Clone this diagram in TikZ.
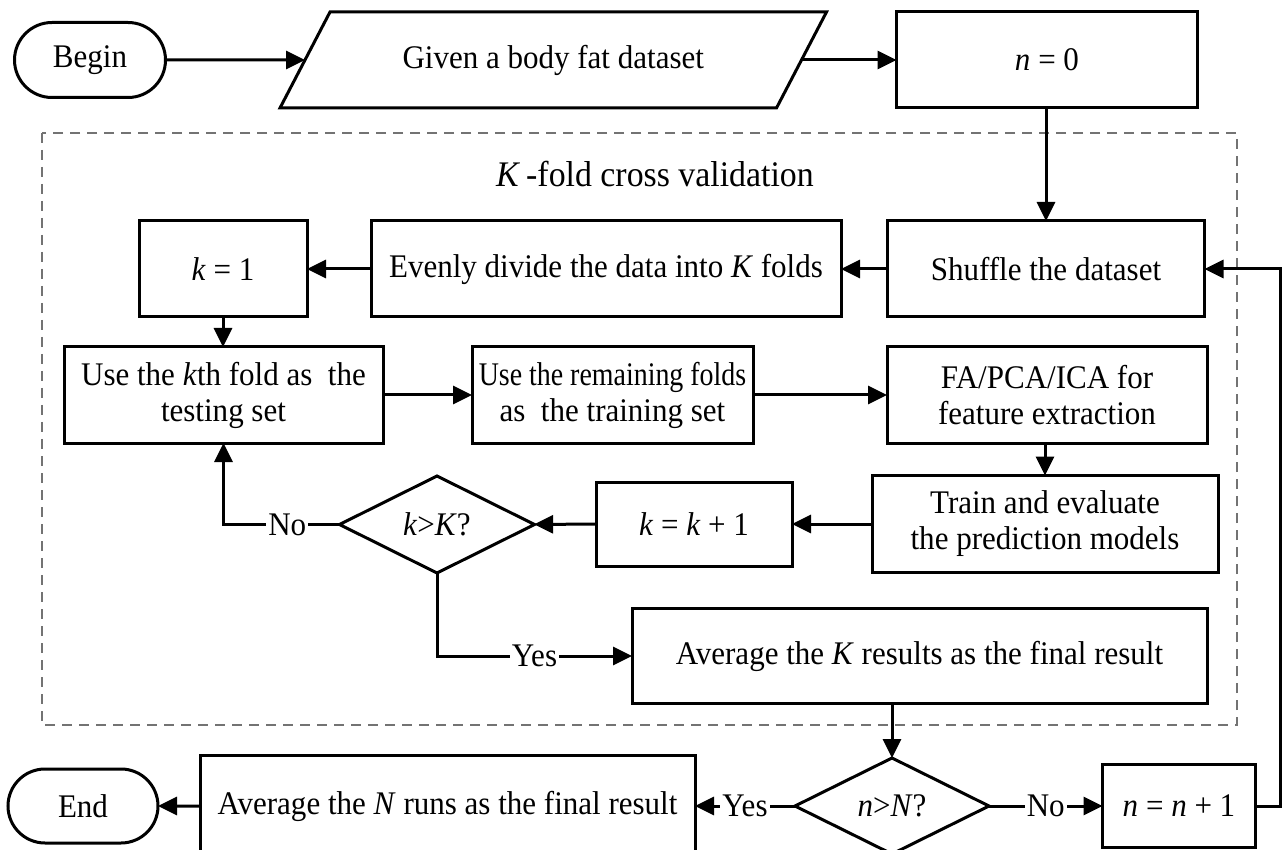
\documentclass[tikz,border=0pt]{standalone}
\usepackage{fontspec}
\setmainfont{Liberation Serif}[FakeStretch=0.94]
\usetikzlibrary{shapes.geometric,shapes.misc,arrows.meta,calc}
\newcommand\mainsz{\fontsize{16.5}{18}\selectfont}
\newcommand\titlesz{\fontsize{18}{21}\selectfont}
\begin{document}
\begin{tikzpicture}[x=0.5pt,y=-0.5pt,
  sz/.style 2 args={minimum width=#1*0.5pt,minimum height=#2*0.5pt},
  base/.style={line width=1.5pt,inner sep=0pt,outer sep=0pt,align=center,font=\mainsz},
  box/.style={base,draw,rectangle},
  term/.style={base,draw,rounded rectangle},
  decision/.style={base,draw,diamond},
  iobody/.style={base,rectangle},
  conn/.style={line width=1.5pt,-{Triangle[length=9.5pt,width=9pt]}},
  lbl/.style={fill=white,inner sep=1pt,font=\mainsz},
  frame/.style={draw=black!55,line width=0.8pt,dash pattern=on 5pt off 3.5pt}]
\useasboundingbox (0,0) rectangle (1286,850);
\clip (0,0) rectangle (1286,850);
\fill[white] (0,0) rectangle (1286,850);

% cross-validation frame and its title
\draw[frame] (42,133) rectangle (1237,725);
\node[font=\titlesz] (cvtitle) at (655,174) {\textit{K}\,-fold cross validation};

% top row
\node[term,sz={151}{75}] (begin) at (90,60) {Begin};
\node[iobody,sz={496.5}{96}] (data) at (553.25,60) {Given a body fat dataset};
\draw[line width=1.5pt,line join=miter]
  ($(data.north west)+(25,0)$) -- ($(data.north east)+(25,0)$) --
  ($(data.south east)+(-25,0)$) -- ($(data.south west)+(-25,0)$) -- cycle;
\node[box,sz={301}{96}] (n0) at (1047,60) {\textit{n} = 0};

% inner loop
\node[box,sz={317}{96}] (shuffle) at (1046,269) {Shuffle the dataset};
\node[box,sz={470}{96}] (divide) at (606,269) {Evenly divide the data into \textit{K} folds};
\node[box,sz={168}{96}] (k1) at (223,269) {\textit{k} = 1};
\node[box,sz={319}{96}] (kth) at (223.5,395) {Use the \textit{k}th fold as \ the\\testing set};
\node[box,sz={281}{96}] (rem) at (612.5,395) {\scalebox{0.9}[1]{Use the remaining folds}\\as \ the training set};
\node[box,sz={320}{96}] (fa) at (1047,395) {FA/PCA/ICA for\\feature extraction};
\node[box,sz={346}{97}] (train) at (1045,524) {Train and evaluate\\the prediction models};
\node[box,sz={196}{84}] (kk1) at (694,524) {\textit{k} = \textit{k} + 1};
\node[decision,sz={195}{97}] (kK) at (437,524.5) {\textit{k}>\textit{K}?};
\node[box,sz={575}{95}] (avgK) at (919.5,656) {Average the \textit{K} results as the final result};

% outer loop
\node[decision,sz={194}{96}] (nN) at (892,806) {\textit{n}>\textit{N}?};
\node[box,sz={153}{83}] (nn1) at (1179,806) {\textit{n} = \textit{n} + 1};
\node[box,sz={495}{102}] (avgN) at (447.5,806) {Average the \textit{N} runs as the final result};
\node[term,sz={150}{74}] (end) at (83,806) {End};
\coordinate (loopx) at (1280,0);

% connectors
\draw[conn] (begin) -- (data);
\draw[conn] (data) -- (n0);
\draw[conn] (n0.south -| shuffle.north) -- (shuffle.north);
\draw[conn] (shuffle) -- (divide);
\draw[conn] (divide) -- (k1);
\draw[conn] (k1) -- (k1 |- kth.north);
\draw[conn] (kth) -- (rem);
\draw[conn] (rem) -- (fa);
\draw[conn] (fa.south -| train.north) -- (train.north);
\draw[conn] (train) -- (kk1);
\draw[conn] (kk1) -- (kK);
\draw[conn] (kK.west) -- node[lbl,pos=0.45]{No} (kK.west -| kth.south) -- (kth.south);
\draw[conn] (kK.south) -- (kK.south |- avgK.west) -- node[lbl]{Yes} (avgK.west);
\draw[conn] (avgK.south -| nN.north) -- (nN.north);
\draw[conn] (nN.west) -- node[lbl]{Yes} (avgN.east);
\draw[conn] (nN.east) -- node[lbl]{No} (nn1.west);
\draw[conn] (nn1.east) -- (nn1.east -| loopx) -- (shuffle.east -| loopx) -- (shuffle.east);
\draw[conn] (avgN) -- (end);
\end{tikzpicture}
\end{document}
